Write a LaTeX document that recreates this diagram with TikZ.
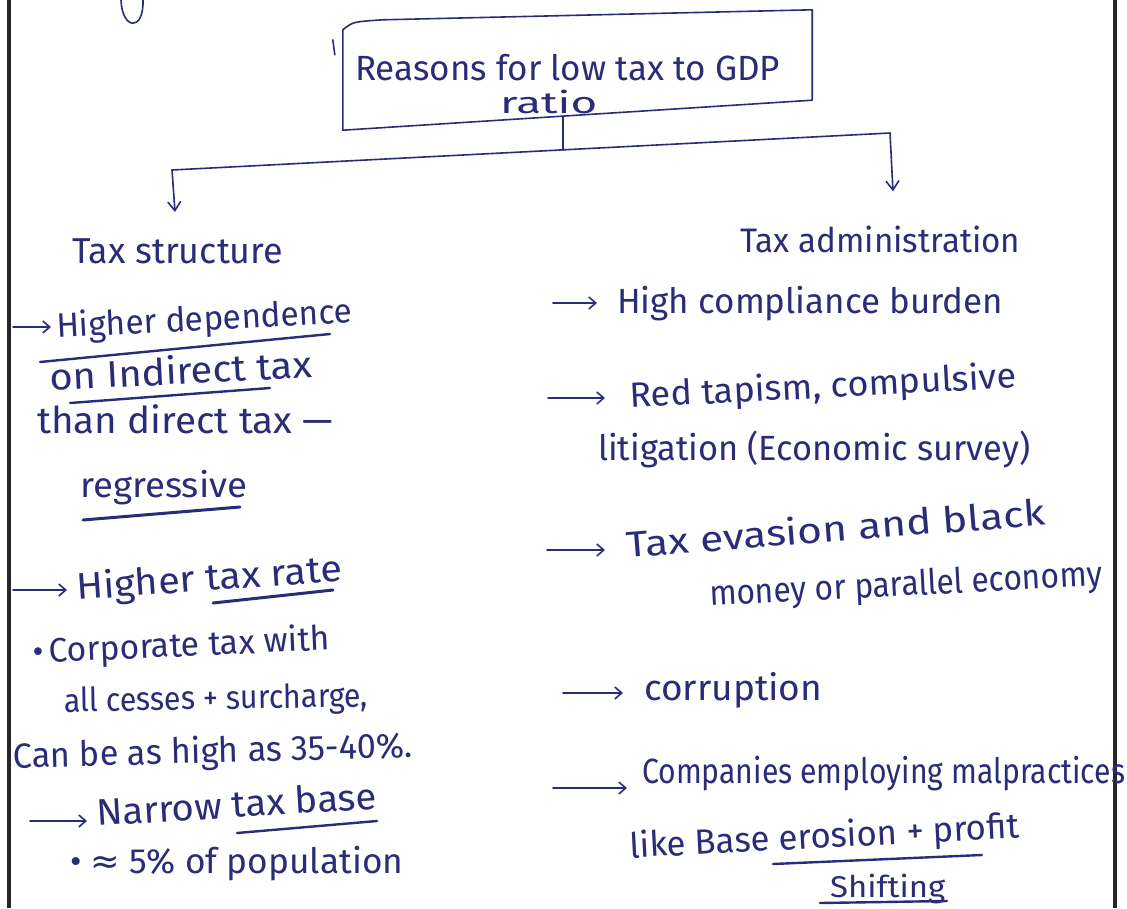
\documentclass[tikz,border=0pt]{standalone}
\usepackage{graphicx}
\usepackage{fontspec}
\setmainfont{Fira Sans}
\newfontfamily\symfont{DejaVu Sans}
\usetikzlibrary{arrows.meta}
\definecolor{ink}{RGB}{42,44,120}
% set a phrase at a given width, keeping its height
\newcommand{\hw}[2]{\resizebox{#1}{\height}{#2}}
\begin{document}
\begin{tikzpicture}[x=1pt,y=-1pt,
  inkline/.style={draw=ink, line width=1.6pt, line cap=round, line join=round},
  arrowline/.style={inkline, -{Straight Barb[length=9pt,width=13pt]}},
  bularrow/.style={inkline, -{Straight Barb[length=7pt,width=12pt]}},
  note/.style={anchor=base west, text=ink, inner sep=0pt},
  fs/.style={font=\fontsize{#1}{#1}\selectfont},
  uline/.style={inkline, line width=2.4pt},
  pageedge/.style={draw=black!85, line width=4pt}]
\useasboundingbox (0,0) rectangle (1127,908);
\fill[white] (0,0) rectangle (1127,908);

% edges of the sheet
\draw[pageedge] (9,0) -- (9,908);
\draw[pageedge] (1115,0) -- (1115,908);
% tail of a letter from the line above
\draw[inkline] (121,0) .. controls (122,30) and (144,32) .. (143,0);

% title box
\node[minimum width=469pt, minimum height=120pt, inner sep=0pt] (title) at (577.5,70) {};
\draw[inkline] ([yshift=-20pt]title.north west) .. controls ([xshift=10pt,yshift=-12pt]title.north west) .. ([xshift=40pt,yshift=-10pt]title.north west)
  -- (title.north east) -- ([yshift=30pt]title.south east) -- (title.south west) -- cycle;
\draw[inkline] ([xshift=-10pt,yshift=-30pt]title.north west) -- ([xshift=-8pt,yshift=-45pt]title.north west);
\node[note, fs=35] (titletext) at (355,80) {\hw{425pt}{Reasons for low tax to GDP}};
\node[note, fs=30] (titletext2) at (500,113) {\hw{97pt}{ratio}};

% two headings
\node[note, fs=36] (ts) at (72,263) {\hw{211pt}{Tax structure}};
\node[note, fs=34] (ta) at (740,252) {\hw{280pt}{Tax administration}};

% branching connector
\coordinate (j)  at (563,150);
\coordinate (bl) at (172,170);
\coordinate (br) at (890,133);
\draw[inkline] ([yshift=14pt]j |- title.south) -- (j);
\draw[inkline] (bl) -- (br);
\draw[arrowline] (bl) -- ([xshift=3pt,yshift=26pt]bl |- ts.north);
\draw[arrowline] (br) -- ([xshift=3pt,yshift=34pt]br |- ta.north);

% left column
\node[note, fs=34, rotate=3] (l1) at (57,338) {\hw{296pt}{Higher dependence}};
\node[note, fs=37, rotate=3] (l2) at (50,391) {\hw{263pt}{on Indirect tax}};
\node[note, fs=37] (l3) at (37,433) {\hw{296pt}{than direct tax —}};
\node[note, fs=35] (l4) at (80,497) {\hw{167pt}{regressive}};
\node[note, fs=37, rotate=4] (l5) at (77,600) {\hw{266pt}{Higher tax rate}};
\node[note, fs=34, rotate=2.5] (l6) at (33,663) {\hw{297pt}{•\,Corporate tax with}};
\node[note, fs=33, rotate=1] (l7) at (64,712) {\hw{304pt}{all cesses + surcharge,}};
\node[note, fs=35, rotate=1.5] (l8) at (13,768) {\hw{400pt}{Can be as high as 35-40\%.}};
\node[note, fs=37, rotate=3.5] (l9) at (97,826) {\hw{281pt}{Narrow tax base}};
\node[note, fs=35] (l10) at (70,873) {\hw{333pt}{• {\symfont ≈} 5\% of population}};

\draw[bularrow] ([xshift=-44pt,yshift=11pt]l1.base west) -- ([xshift=-6pt,yshift=11pt]l1.base west);
\draw[bularrow] ([xshift=-64pt,yshift=10pt]l5.base west) -- ([xshift=-10pt,yshift=10pt]l5.base west);
\draw[bularrow] ([xshift=-67pt,yshift=5pt]l9.base west) -- ([xshift=-10pt,yshift=5pt]l9.base west);

\draw[uline] (40,362) -- (330,334);
\draw[uline] (70,403) -- (270,388);
\draw[uline, line width=3pt] (83,520) -- (240,507);
\draw[uline, line width=3pt] (213,603) -- (333,590);
\draw[uline] (237,833) -- (377,821);

% right column
\node[note, fs=35] (r1) at (617,313) {\hw{386pt}{High compliance burden}};
\node[note, fs=35, rotate=3] (r2) at (630,408) {\hw{387pt}{Red tapism, compulsive}};
\node[note, fs=35] (r3) at (598,460) {\hw{432pt}{litigation (Economic survey)}};
\node[note, fs=36, rotate=4.5] (r4) at (627,558) {\hw{420pt}{Tax evasion and black}};
\node[note, fs=35, rotate=3] (r5) at (710,606) {\hw{393pt}{money or parallel economy}};
\node[note, fs=36] (r6) at (644,700) {\hw{178pt}{corruption}};
\node[note, fs=35] (r7) at (642,783) {\hw{483pt}{Companies employing malpractices}};
\node[note, fs=35, rotate=3] (r8) at (630,858) {\hw{390pt}{like Base erosion + profit}};
\node[note, fs=30] (r9) at (830,897) {\hw{115pt}{Shifting}};

\draw[bularrow] ([xshift=-64pt,yshift=10pt]r1.base west) -- ([xshift=-20pt,yshift=10pt]r1.base west);
\draw[bularrow] ([xshift=-82pt,yshift=10pt]r2.base west) -- ([xshift=-25pt,yshift=10pt]r2.base west);
\draw[bularrow] ([xshift=-80pt,yshift=8pt]r4.base west) -- ([xshift=-22pt,yshift=8pt]r4.base west);
\draw[bularrow] ([xshift=-81pt,yshift=7pt]r6.base west) -- ([xshift=-21pt,yshift=7pt]r6.base west);
\draw[bularrow] ([xshift=-89pt,yshift=-5pt]r7.base west) -- ([xshift=-15pt,yshift=-5pt]r7.base west);

\draw[uline] (773,864) -- (982,855);
\draw[uline] (820,903) -- (947,901);
\end{tikzpicture}
\end{document}
